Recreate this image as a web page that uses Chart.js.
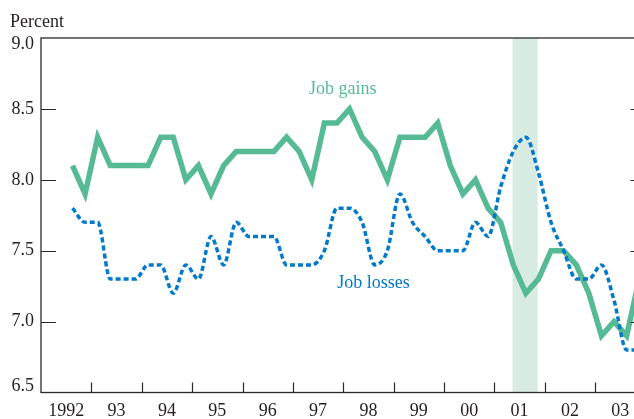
<!DOCTYPE html>
<html>
<head>
<meta charset="utf-8">
<script src="https://cdn.jsdelivr.net/npm/chart.js@4"></script>
<style>
  html, body { margin: 0; padding: 0; background: #fff; overflow: hidden; }
  #wrap { position: relative; width: 647px; height: 419px; }
</style>
</head>
<body>
<div id="wrap"><canvas id="myChart"></canvas></div>
<script>
// quarterly, 1992:Q3 through 2003:Q4 (points sit at quarter midpoints)
const quarters = ['1992Q3','1992Q4',
  '1993Q1','1993Q2','1993Q3','1993Q4','1994Q1','1994Q2','1994Q3','1994Q4',
  '1995Q1','1995Q2','1995Q3','1995Q4','1996Q1','1996Q2','1996Q3','1996Q4',
  '1997Q1','1997Q2','1997Q3','1997Q4','1998Q1','1998Q2','1998Q3','1998Q4',
  '1999Q1','1999Q2','1999Q3','1999Q4','2000Q1','2000Q2','2000Q3','2000Q4',
  '2001Q1','2001Q2','2001Q3','2001Q4','2002Q1','2002Q2','2002Q3','2002Q4',
  '2003Q1','2003Q2','2003Q3','2003Q4']

const jobGains = [8.1, 7.9,
  8.3, 8.1, 8.1, 8.1,  8.1, 8.3, 8.3, 8.0,
  8.1, 7.9, 8.1, 8.2,  8.2, 8.2, 8.2, 8.3,
  8.2, 8.0, 8.4, 8.4,  8.5, 8.3, 8.2, 8.0,
  8.3, 8.3, 8.3, 8.4,  8.1, 7.9, 8.0, 7.8,
  7.7, 7.4, 7.2, 7.3,  7.5, 7.5, 7.4, 7.2,
  6.9, 7.0, 6.9, 7.3]

const jobLosses = [7.8, 7.7,
  7.7, 7.3, 7.3, 7.3,  7.4, 7.4, 7.2, 7.4,
  7.3, 7.6, 7.4, 7.7,  7.6, 7.6, 7.6, 7.4,
  7.4, 7.4, 7.5, 7.8,  7.8, 7.7, 7.4, 7.5,
  7.9, 7.7, 7.6, 7.5,  7.5, 7.5, 7.7, 7.6,
  7.95, 8.2, 8.3, 8.05, 7.7, 7.5, 7.3, 7.3,
  7.4, 7.15, 6.8, 6.8]

const yearLabels = ['1992','93','94','95','96','97','98','99','00','01','02','03']
const yTicks = [6.5, 7.0, 7.5, 8.0, 8.5, 9.0]
const recession = [2001.36, 2001.86]

const green = 'rgb(86, 186, 148)'
const blue = 'rgb(0, 122, 201)'
const shade = 'rgb(217, 236, 227)'
const ink = '#231f20'
const serif = "'Liberation Serif', 'DejaVu Serif', serif"

function qx(q) {
  return parseInt(q.slice(0, 4)) + (parseInt(q.slice(5)) - 0.5) / 4
}
const gainsPts = quarters.map((q, i) => ({ x: qx(q), y: jobGains[i] }))
const lossPts = quarters.map((q, i) => ({ x: qx(q), y: jobLosses[i] }))

const decor = {
  id: 'decor',
  beforeDatasetsDraw(chart) {
    const { ctx, chartArea: a, scales: { x } } = chart
    ctx.save()
    ctx.fillStyle = shade
    const x0 = x.getPixelForValue(recession[0])
    const x1 = x.getPixelForValue(recession[1])
    ctx.fillRect(x0, a.top, x1 - x0, a.bottom - a.top)
    ctx.restore()
  },
  afterDraw(chart) {
    const { ctx, chartArea: a, scales: { x, y } } = chart
    ctx.save()
    // frame
    ctx.strokeStyle = '#2b2b2b'
    ctx.lineWidth = 1.3
    ctx.strokeRect(a.left, a.top, a.right - a.left, a.bottom - a.top)
    // year boundary ticks (inward)
    ctx.lineWidth = 1.2
    ctx.beginPath()
    for (let yr = 1993; yr < 2004; yr++) {
      const px = Math.round(x.getPixelForValue(yr)) + 0.5
      ctx.moveTo(px, a.bottom)
      ctx.lineTo(px, a.bottom - 10)
    }
    // value ticks, left and right (inward)
    yTicks.slice(1, -1).forEach(v => {
      const py = Math.round(y.getPixelForValue(v)) + 0.5
      ctx.moveTo(a.left, py)
      ctx.lineTo(a.left + 15, py)
      ctx.moveTo(a.right, py)
      ctx.lineTo(a.right - 15, py)
    })
    ctx.stroke()
    // value labels; the end ones are nudged inside the frame
    ctx.font = '18px ' + serif
    ctx.fillStyle = ink
    ctx.textAlign = 'right'
    ctx.textBaseline = 'middle'
    yTicks.forEach((v, i) => {
      let py = y.getPixelForValue(v)
      if (i === 0) py -= 6
      if (i === yTicks.length - 1) py += 6
      ctx.fillText(v.toFixed(1), a.left - 7, py)
    })
    // texts
    ctx.textAlign = 'left'
    ctx.textBaseline = 'alphabetic'
    ctx.fillText('Percent', 10, 27)
    ctx.textAlign = 'center'
    ctx.textBaseline = 'middle'
    ctx.fillStyle = green
    ctx.fillText('Job gains', x.getPixelForValue(1997.99), y.getPixelForValue(8.64))
    ctx.fillStyle = blue
    ctx.fillText('Job losses', x.getPixelForValue(1998.6), y.getPixelForValue(7.27))
    ctx.restore()
  },
}

Chart.register(decor)

var ctx = document.getElementById('myChart').getContext('2d')
var myChart = new Chart(ctx, {
  type: 'line',
  data: {
    datasets: [
      {
        label: 'Job losses',
        data: lossPts,
        borderColor: blue,
        borderWidth: 3.5,
        borderDash: [5, 3],
        cubicInterpolationMode: 'monotone',
        pointRadius: 0,
        fill: false,
      },
      {
        label: 'Job gains',
        data: gainsPts,
        borderColor: green,
        borderWidth: 5.5,
        tension: 0,
        pointRadius: 0,
        fill: false,
      },
    ],
  },
  options: {
    animation: false,
    responsive: true,
    maintainAspectRatio: false,
    layout: { padding: { top: 38, right: 1.5, left: 0, bottom: 0 } },
    plugins: {
      legend: { display: false },
      tooltip: { enabled: false },
    },
    scales: {
      x: {
        type: 'linear',
        min: 1992,
        max: 2004,
        afterBuildTicks: (scale) => {
          scale.ticks = yearLabels.map((l, i) => ({ value: 1992.5 + i }))
        },
        afterFit: (scale) => { scale.height = 26.5 },
        ticks: {
          autoSkip: false,
          maxRotation: 0,
          padding: 8,
          color: ink,
          font: { family: serif, size: 18 },
          callback: (v) => yearLabels[Math.floor(v) - 1992],
        },
        grid: { display: false, drawTicks: false },
        border: { display: false },
      },
      y: {
        min: 6.5,
        max: 9.0,
        afterBuildTicks: (scale) => {
          scale.ticks = yTicks.map(v => ({ value: v }))
        },
        afterFit: (scale) => { scale.width = 41 },
        ticks: { display: false },
        grid: { display: false, drawTicks: false },
        border: { display: false },
      },
    },
  },
})
</script>
</body>
</html>
